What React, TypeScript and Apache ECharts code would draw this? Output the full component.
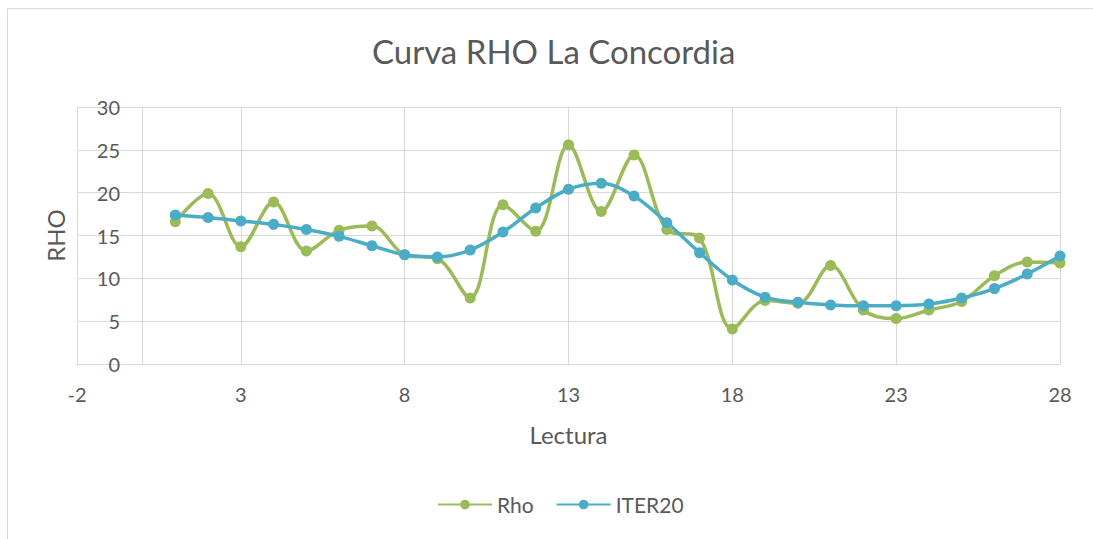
import React, { useEffect, useRef } from "react";
import * as echarts from "echarts";

const lectura = [1, 2, 3, 4, 5, 6, 7, 8, 9, 10, 11, 12, 13, 14, 15, 16, 17, 18, 19, 20, 21, 22, 23, 24, 25, 26, 27, 28];
const rho = [16.6, 19.9, 13.7, 18.9, 13.2, 15.6, 16.1, 12.75, 12.3, 7.7, 18.6, 15.5, 25.6, 17.8, 24.4, 15.7, 14.7, 4.1, 7.4, 7.1, 11.5, 6.3, 5.3, 6.3, 7.3, 10.3, 11.9, 11.8];
const iter20 = [17.4, 17.1, 16.7, 16.3, 15.7, 14.9, 13.8, 12.75, 12.5, 13.3, 15.4, 18.2, 20.4, 21.1, 19.6, 16.5, 13.0, 9.8, 7.8, 7.2, 6.9, 6.8, 6.8, 7.0, 7.7, 8.8, 10.5, 12.6];

const FONT = "Lato";
const TXT = "#595959";
const GRID = "#d9d9d9";

export default function App() {
  const ref = useRef<HTMLDivElement>(null);
  useEffect(() => {
    document.body.style.margin = "0";
    const chart = echarts.init(ref.current!, null, { renderer: "svg" });
    chart.setOption({
      animation: false,
      backgroundColor: "#fff",
      title: {
        text: "Curva RHO La Concordia",
        left: 367,
        top: 29,
        textStyle: { fontFamily: FONT, fontSize: 33, fontWeight: "normal", color: TXT },
      },
      legend: {
        left: 432,
        top: 489,
        itemWidth: 54,
        itemHeight: 12,
        itemGap: 22,
        textStyle: { fontFamily: FONT, fontSize: 21, color: TXT },
        data: ["Rho", "ITER20"],
      },
      grid: { left: 77, right: 33, top: 107, bottom: 175, containLabel: false, outerBoundsMode: "none" },
      xAxis: {
        type: "value",
        min: -2,
        max: 28,
        interval: 5,
        name: "Lectura",
        nameLocation: "middle",
        nameGap: 58,
        nameTextStyle: { fontFamily: FONT, fontSize: 24, color: TXT },
        axisLine: { show: true, lineStyle: { color: GRID, width: 1 } },
        axisTick: { show: false },
        axisLabel: { fontFamily: FONT, fontSize: 20, color: TXT, margin: 20 },
        splitLine: { show: true, lineStyle: { color: GRID, width: 1 } },
      },
      yAxis: {
        type: "value",
        min: 0,
        max: 30,
        interval: 5,
        name: "RHO",
        nameLocation: "middle",
        nameGap: 10,
        nameTextStyle: { fontFamily: FONT, fontSize: 24, color: TXT },
        axisLine: { show: true, onZero: true, lineStyle: { color: GRID, width: 1 } },
        axisTick: { show: false },
        axisLabel: { fontFamily: FONT, fontSize: 20, color: TXT, margin: -43 },
        splitLine: { show: true, lineStyle: { color: GRID, width: 1 } },
      },
      graphic: [
        { type: "line", shape: { x1: 7.5, y1: 8.5, x2: 1093, y2: 8.5 }, style: { stroke: GRID, lineWidth: 1 } },
        { type: "line", shape: { x1: 7.5, y1: 8.5, x2: 7.5, y2: 539 }, style: { stroke: GRID, lineWidth: 1 } },
      ],
      series: [
        {
          name: "Rho",
          type: "line",
          smooth: 0.35,
          data: lectura.map((x, i) => [x, rho[i]]),
          symbol: "circle",
          symbolSize: 11,
          itemStyle: { color: "#9BBB59" },
          lineStyle: { color: "#9BBB59", width: 3.5 },
        },
        {
          name: "ITER20",
          type: "line",
          smooth: 0.35,
          data: lectura.map((x, i) => [x, iter20[i]]),
          symbol: "circle",
          symbolSize: 11,
          itemStyle: { color: "#4BACC6" },
          lineStyle: { color: "#4BACC6", width: 3.5 },
        },
      ],
    });
    return () => chart.dispose();
  }, []);
  return <div ref={ref} style={{ width: 1093, height: 539 }} />;
}
